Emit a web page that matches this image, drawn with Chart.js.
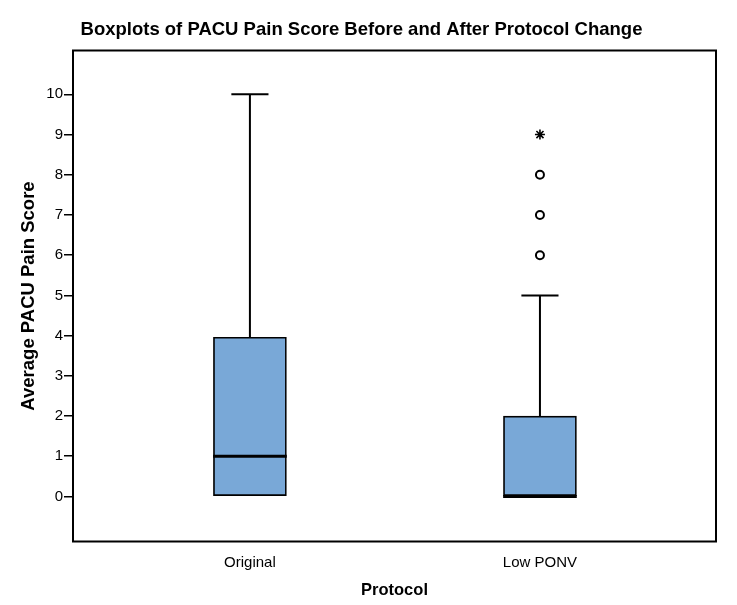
<!DOCTYPE html>
<html>
<head>
<meta charset="utf-8">
<script src="https://cdn.jsdelivr.net/npm/chart.js@4.4.1/dist/chart.umd.min.js"></script>
<style>
  html, body { margin: 0; padding: 0; background: #fff; }
  #wrap { width: 737px; height: 605px; position: relative; }
</style>
</head>
<body>
<div id="wrap"><canvas id="c"></canvas></div>
<script>
// ---- Data ----
const categories = ['Original', 'Low PONV'];
const q1 = [0, 0];
const medians = [1, 0];
const q3 = [3.96, 2];
const whiskerLow = [0, 0];
const whiskerHigh = [10, 5];
const outliers = [[], [6, 7, 8]];
const extremes = [[], [9]];
const yTicks = [0, 1, 2, 3, 4, 5, 6, 7, 8, 9, 10];

// ---- Styles ----
const BOX_HALF = 0.127;
const CAP_HALF = 0.064;
const FONT = "'Liberation Sans', Arial, sans-serif";

const datasets = [];
datasets.push({
  type: 'bar',
  data: categories.map((c, i) => ({ x: i, y: [q1[i], q3[i]] })),
  backgroundColor: '#79A8D7',
  borderColor: '#000',
  borderWidth: 1.7,
  borderSkipped: false,
  barThickness: 73,
  order: 3
});
function seg(points, width) {
  datasets.push({
    type: 'line',
    data: points,
    borderColor: '#000',
    borderWidth: width,
    pointRadius: 0,
    fill: false,
    tension: 0,
    order: 1
  });
}
categories.forEach((c, i) => {
  if (whiskerHigh[i] > q3[i]) {
    seg([{ x: i, y: q3[i] }, { x: i, y: whiskerHigh[i] }], 2);
    seg([{ x: i - CAP_HALF, y: whiskerHigh[i] }, { x: i + CAP_HALF, y: whiskerHigh[i] }], 2);
  }
  if (whiskerLow[i] < q1[i]) {
    seg([{ x: i, y: q1[i] }, { x: i, y: whiskerLow[i] }], 2);
    seg([{ x: i - CAP_HALF, y: whiskerLow[i] }, { x: i + CAP_HALF, y: whiskerLow[i] }], 2);
  }
  seg([{ x: i - BOX_HALF, y: medians[i] }, { x: i + BOX_HALF, y: medians[i] }], 3);
});
datasets.push({
  type: 'scatter',
  data: categories.flatMap((c, i) => outliers[i].map(v => ({ x: i, y: v }))),
  pointStyle: 'circle',
  pointRadius: 4,
  pointBorderWidth: 2,
  pointBackgroundColor: '#fff',
  pointBorderColor: '#000',
  order: 0
});
datasets.push({
  type: 'scatter',
  data: categories.flatMap((c, i) => extremes[i].map(v => ({ x: i, y: v }))),
  pointStyle: 'star',
  pointRadius: 5,
  pointBorderWidth: 1.6,
  pointBackgroundColor: '#000',
  pointBorderColor: '#000',
  order: 0
});

const framePlugin = {
  id: 'frame',
  afterDatasetsDraw(chart) {
    const { ctx, chartArea: a } = chart;
    ctx.save();
    ctx.strokeStyle = '#000';
    ctx.lineWidth = 2;
    ctx.strokeRect(a.left, a.top, a.right - a.left, a.bottom - a.top);
    ctx.restore();
  }
};

new Chart(document.getElementById('c'), {
  type: 'bar',
  data: { datasets },
  plugins: [framePlugin],
  options: {
    responsive: true,
    maintainAspectRatio: false,
    animation: false,
    layout: { padding: { left: 7, right: 21, top: 0, bottom: 0 } },
    plugins: {
      legend: { display: false },
      tooltip: { enabled: false },
      title: {
        display: true,
        text: 'Boxplots of PACU Pain Score Before and After Protocol Change',
        color: '#000',
        font: { family: FONT, size: 18.5, weight: 'bold' },
        padding: { top: 19, bottom: 9.3 }
      }
    },
    scales: {
      x: {
        type: 'linear',
        offset: false,
        min: -0.61,
        max: 1.607,
        afterBuildTicks(scale) { scale.ticks = categories.map((c, i) => ({ value: i })); },
        afterFit(scale) { scale.height = 63.5; },
        grid: { display: false, offset: false },
        border: { display: false },
        ticks: {
          color: '#000',
          font: { family: FONT, size: 15 },
          padding: 4,
          callback: (v) => categories[v]
        },
        title: {
          display: true,
          text: 'Protocol',
          color: '#000',
          font: { family: FONT, size: 16.5, weight: 'bold' },
          padding: { top: 0, bottom: 5 }
        }
      },
      y: {
        type: 'linear',
        min: -1.12,
        max: 11.09,
        afterBuildTicks(scale) { scale.ticks = yTicks.map(v => ({ value: v })); },
        afterFit(scale) { scale.width = 66; },
        grid: { drawOnChartArea: false, drawTicks: true, tickLength: 9, color: '#000', lineWidth: 1.5 },
        border: { display: false },
        ticks: {
          color: '#000',
          font: { family: FONT, size: 15 },
          padding: 1
        },
        title: {
          display: true,
          text: 'Average PACU Pain Score',
          color: '#000',
          font: { family: FONT, size: 18.5, weight: 'bold' },
          padding: { top: 11, bottom: 0 }
        }
      }
    }
  }
});
</script>
</body>
</html>
